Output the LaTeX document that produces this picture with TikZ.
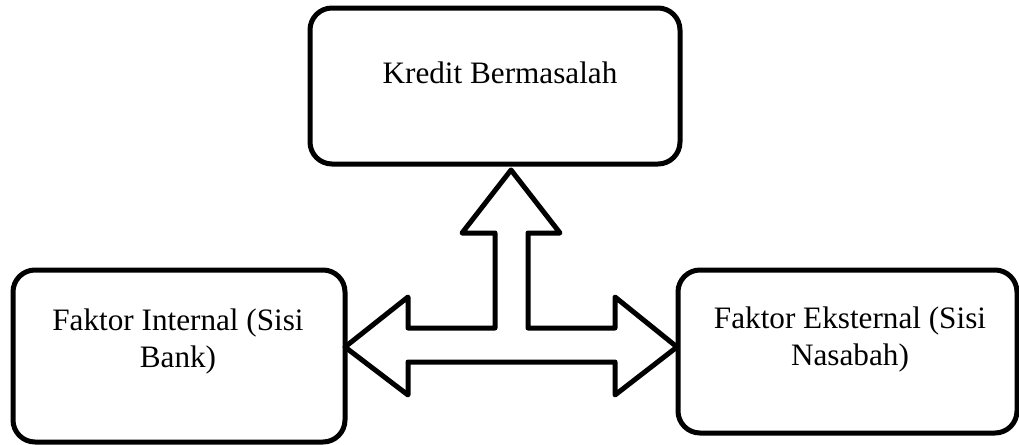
\documentclass[tikz,border=0pt]{standalone}
\usepackage{fontspec}
\setmainfont{Liberation Serif}
\tikzset{
  box/.style={draw, line width=2.5pt, rounded corners=11pt, inner sep=0pt},
  boxtext/.style={align=center, font=\fontsize{15.6}{18.5}\selectfont},
  blockarrow/.style={draw, fill=white, line width=2.5pt, line join=round}
}
\begin{document}
\begin{tikzpicture}[x=0.5pt, y=-0.5pt]
\useasboundingbox (0,0) rectangle (1019,445);

% Kredit Bermasalah
\node[box, minimum width=185pt, minimum height=78pt] (kredit) at (495,86) {};
\node[boxtext] (kreditlbl) at (500,73) {Kredit Bermasalah};

% Faktor Internal
\node[box, minimum width=166pt, minimum height=86pt] (internal) at (179,356) {};
\node[boxtext] (internallbl) at (178,341) {Faktor Internal (Sisi\\Bank)};

% Faktor Eksternal
\node[box, minimum width=169.5pt, minimum height=81.5pt] (eksternal) at (847.5,351.5) {};
\node[boxtext] (eksternallbl) at (850,339) {Faktor Eksternal (Sisi\\Nasabah)};

% three-way block arrow
\draw[blockarrow] (511,170) -- (560,233) -- (528,233) -- (528,328) -- (615,328)
  -- (615,297) -- (677,347) -- (615,395) -- (615,362) -- (408,362) -- (408,395)
  -- (345,347) -- (408,297) -- (408,328) -- (495,328) -- (495,233) -- (462,233) -- cycle;

\end{tikzpicture}
\end{document}
